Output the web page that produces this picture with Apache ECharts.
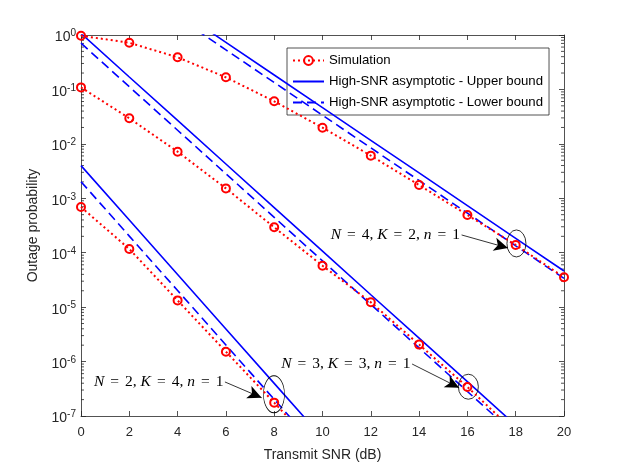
<!DOCTYPE html>
<html>
<head>
<meta charset="utf-8">
<script src="https://cdn.jsdelivr.net/npm/echarts@6/dist/echarts.min.js"></script>
<style>html,body{margin:0;padding:0;background:#fff}#c{width:623px;height:467px}</style>
</head>
<body>
<div id="c"></div>
<script>
// ---- data ----
const snr = [0, 2, 4, 6, 8, 10, 12, 14, 16, 18, 20];
// N=4, K=2, n=1
const simA = [0.97, 0.72, 0.39, 0.167, 0.0605, 0.0198, 0.00607, 0.00175, 4.93e-4, 1.39e-4, 3.53e-5];
const upA  = [46.2, 11.6, 2.92, 0.733, 0.184, 0.0462, 0.0116, 2.92e-3, 7.33e-4, 1.84e-4, 4.62e-5];
const loA  = [33.6, 8.45, 2.12, 0.533, 0.134, 0.0336, 8.45e-3, 2.12e-3, 5.33e-4, 1.34e-4, 3.37e-5];
// N=3, K=3, n=1
const simB = [0.109, 0.0295, 0.00718, 0.00152, 2.93e-4, 5.78e-5, 1.23e-5, 2.05e-6, 3.41e-7, 5.0e-8];
const upB  = [1.07, 0.169, 0.0269, 4.27e-3, 6.76e-4, 1.07e-4, 1.69e-5, 2.69e-6, 4.27e-7, 6.76e-8];
const loB  = [0.708, 0.112, 0.0178, 2.82e-3, 4.47e-4, 7.08e-5, 1.12e-5, 1.78e-6, 2.82e-7, 4.47e-8];
// N=2, K=4, n=1
const simC = [6.9e-4, 1.17e-4, 1.33e-5, 1.52e-6, 1.76e-7, 2.0e-8];
const upC  = [3.98e-3, 3.98e-4, 3.98e-5, 3.98e-6, 3.98e-7, 3.98e-8];
const loC  = [2.02e-3, 2.02e-4, 2.02e-5, 2.02e-6, 2.02e-7, 2.02e-8];

const xTicks = [0, 20, 2];       // min, max, interval
const yDecades = [-7, -6, -5, -4, -3, -2, -1];
const minorMult = [2, 3, 4, 5, 6, 7, 8, 9];

const seriesNames = ['Simulation', 'High-SNR asymptotic - Upper bound', 'High-SNR asymptotic - Lower bound'];

// annotations
const notes = [
  { N: 4, K: 2, n: 1, from: [15.76, 2.12e-4], to: [17.68, 1.22e-4], ell: [18.03, 1.48e-4], size: [19, 27] },
  { N: 3, K: 3, n: 1, from: [13.71, 9.02e-7], to: [15.66, 3.31e-7], ell: [16.04, 3.45e-7], size: [20, 25] },
  { N: 2, K: 4, n: 1, from: [5.96, 4.22e-7], to: [7.48, 2.17e-7], ell: [7.99, 2.51e-7], size: [21, 37] }
];

// ---- chart ----
const zip = arr => arr.map((v, i) => [snr[i], v]);
const RED = '#ff0000', BLUE = '#0000ff', AX = '#262626';

function simSeries(arr) {
  return {
    name: seriesNames[0], type: 'line', data: zip(arr), clip: true,
    symbol: 'circle', symbolSize: 8, showSymbol: true,
    itemStyle: { color: 'rgba(0,0,0,0)', borderColor: RED, borderWidth: 2 },
    lineStyle: { color: RED, width: 2, type: [2, 3] },
    z: 5
  };
}
function bound(arr, upper) {
  return {
    name: upper ? seriesNames[1] : seriesNames[2], type: 'line', data: zip(arr), clip: true,
    symbol: 'none', showSymbol: false,
    itemStyle: { color: BLUE },
    lineStyle: { color: BLUE, width: 1.6, type: upper ? 'solid' : [9, 5] },
    z: 4
  };
}

const minorData = [];
yDecades.forEach(d => minorMult.forEach(m => minorData.push([0, m * Math.pow(10, d)])));

const ellPath = 'path://M0,-1 A1,1 0 1,1 0,1 A1,1 0 1,1 0,-1 Z';
const SERIF = 'Liberation Serif';
const FS = 15.5;

const annoSeries = {
  name: 'anno', type: 'line', data: [], symbol: 'none', z: 10,
  markLine: {
    silent: true, symbol: ['none', 'arrow'], symbolSize: [10, 14],
    label: { show: false },
    lineStyle: { color: '#000', width: 0.8, type: 'solid' },
    emphasis: { disabled: true },
    data: notes.map(n => [{ coord: n.from }, { coord: n.to }])
  },
  markPoint: {
    silent: true,
    data: notes.map(n => ({
      coord: n.ell, symbol: ellPath, symbolSize: n.size, symbolKeepAspect: false,
      itemStyle: { color: 'none', borderColor: '#000', borderWidth: 0.8 },
      label: { show: false }
    })).concat(notes.map(n => ({
      coord: n.from, symbol: 'circle', symbolSize: 1,
      itemStyle: { color: 'rgba(0,0,0,0)' },
      label: {
        show: true, position: 'left', distance: 1,
        formatter: '{i|N}{e|=}' + n.N + ', {i|K}{e|=}' + n.K + ', {i|n}{e|=}' + n.n,
        fontFamily: SERIF, fontSize: FS, color: '#000',
        rich: {
          i: { fontStyle: 'italic', fontFamily: SERIF, fontSize: FS, color: '#000' },
          e: { fontFamily: SERIF, fontSize: FS, color: '#000', padding: [0, 6, 0, 6] }
        }
      }
    })))
  }
};

const minorSeries = {
  type: 'custom', data: minorData, silent: true, z: 3, clip: false,
  renderItem: function (params, api) {
    const v = api.value(1);
    const p0 = api.coord([xTicks[0], v]);
    const p1 = api.coord([xTicks[1], v]);
    const st = { stroke: AX, lineWidth: 0.8 };
    return {
      type: 'group', children: [
        { type: 'line', shape: { x1: p0[0], y1: p0[1], x2: p0[0] + 3, y2: p0[1] }, style: st },
        { type: 'line', shape: { x1: p1[0] - 3, y1: p1[1], x2: p1[0], y2: p1[1] }, style: st }
      ]
    };
  }
};

const baseX = {
  type: 'value', min: xTicks[0], max: xTicks[1], interval: xTicks[2],
  splitLine: { show: false },
  axisLine: { show: true, onZero: false, lineStyle: { color: AX, width: 0.8 } },
  axisTick: { show: true, inside: true, length: 5, lineStyle: { color: AX, width: 0.8 } }
};
const baseY = {
  type: 'log', logBase: 10, min: 1e-7, max: 1,
  splitLine: { show: false },
  axisLine: { show: true, onZero: false, lineStyle: { color: AX, width: 0.8 } },
  axisTick: { show: true, inside: true, length: 5, lineStyle: { color: AX, width: 0.8 } }
};

const hideSym = { color: 'rgba(0,0,0,0)', borderWidth: 0 };

const option = {
  backgroundColor: '#fff',
  animation: false,
  grid: { left: 81, right: 59, top: 35, bottom: 51, containLabel: false },
  legend: {
    data: [
      { name: seriesNames[0] },
      { name: seriesNames[1], itemStyle: hideSym },
      { name: seriesNames[2], itemStyle: hideSym }
    ],
    orient: 'vertical', left: 287, top: 48,
    itemWidth: 31, itemHeight: 11, itemGap: 8,
    padding: [6, 6, 6, 5],
    backgroundColor: '#fff', borderColor: AX, borderWidth: 0.8,
    textStyle: { fontFamily: 'Liberation Sans', fontSize: 13.2, color: '#000' },
    selectedMode: false
  },
  xAxis: [
    Object.assign({}, baseX, {
      position: 'bottom',
      name: 'Transmit SNR (dB)', nameLocation: 'middle', nameGap: 32,
      nameTextStyle: { fontFamily: 'Liberation Sans', fontSize: 14, color: AX },
      axisLabel: { show: true, margin: 10, fontFamily: 'Liberation Sans', fontSize: 13, color: AX }
    }),
    Object.assign({}, baseX, { position: 'top', axisLabel: { show: false } })
  ],
  yAxis: [
    Object.assign({}, baseY, {
      position: 'left',
      name: 'Outage probability', nameLocation: 'middle', nameGap: 41,
      nameTextStyle: { fontFamily: 'Liberation Sans', fontSize: 14, color: AX },
      axisLabel: {
        show: true, margin: 5, fontFamily: 'Liberation Sans', fontSize: 14, color: AX,
        padding: [5, 0, 0, 0],
        formatter: v => '10{s|' + Math.round(Math.log10(v)) + '}',
        rich: { s: { fontSize: 10, verticalAlign: 'top', padding: [0, 0, 8, 0], color: AX, fontFamily: 'Liberation Sans' } }
      }
    }),
    Object.assign({}, baseY, { position: 'right', axisLabel: { show: false } })
  ],
  series: [
    bound(upA, true), bound(loA, false), simSeries(simA),
    bound(upB, true), bound(loB, false), simSeries(simB),
    bound(upC, true), bound(loC, false), simSeries(simC),
    minorSeries, annoSeries
  ]
};

const chart = echarts.init(document.getElementById('c'), null, { renderer: 'canvas' });
chart.setOption(option);
</script>
</body>
</html>
